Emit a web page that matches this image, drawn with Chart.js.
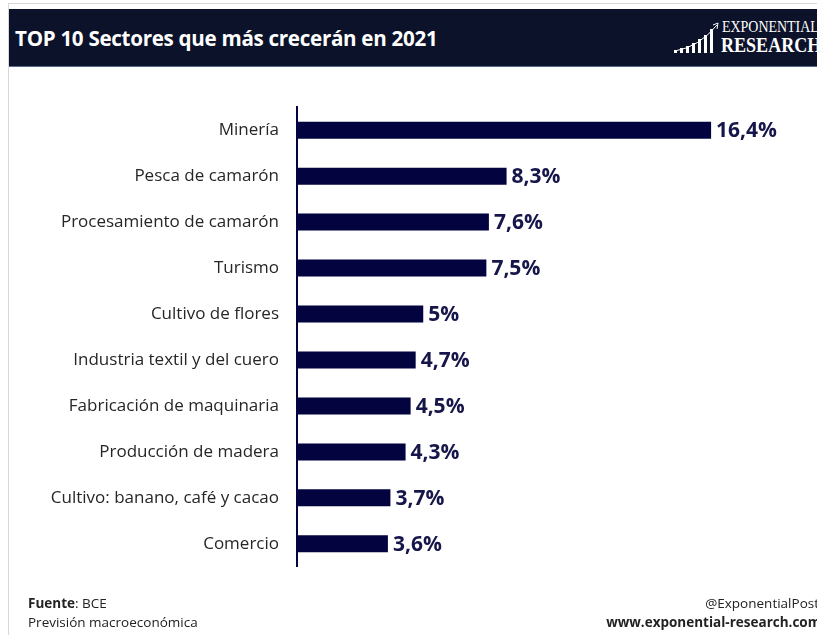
<!DOCTYPE html>
<html>
<head>
<meta charset="utf-8">
<script src="https://cdn.jsdelivr.net/npm/chart.js@4"></script>
<style>
  body { margin: 0; width: 817px; height: 635px; background: #fff; position: relative; overflow: hidden; font-family: "Open Sans", sans-serif; }
  #topline { position: absolute; left: 8px; top: 3px; width: 809px; height: 1px; background: #d8d8d8; }
  #leftline { position: absolute; left: 8px; top: 3px; width: 1px; height: 632px; background: #d8d8d8; }
  #header { position: absolute; left: 9px; top: 9px; width: 808px; height: 57px; background: #0b1229; border-bottom: 1px solid #5a6a90; overflow: hidden; z-index: 2; }
  #title { position: absolute; left: 6px; top: 15px; color: #fff; font: bold 20.6px "Open Sans", sans-serif; letter-spacing: -0.3px; }
  #logo1 { position: absolute; left: 713px; top: 8px; color: #fff; font: 17px "Liberation Serif", serif; transform: scaleX(0.82); transform-origin: left; white-space: nowrap; }
  #logo2 { position: absolute; left: 712px; top: 23px; color: #fff; font: bold 22px "Liberation Serif", serif; transform: scaleX(0.82); transform-origin: left; white-space: nowrap; }
  .lb { position: absolute; bottom: 13px; width: 3px; background: #fff; }
  #arrow { position: absolute; left: 664px; top: 12px; }
  #chartbox { position: absolute; left: 0; top: 79px; width: 817px; height: 516px; }
  .foot { position: absolute; font-size: 13.5px; color: #222; white-space: nowrap; }
</style>
</head>
<body>
<div id="topline"></div>
<div id="leftline"></div>
<div id="header">
  <div id="title">TOP 10 Sectores que más crecerán en 2021</div>
  <svg id="arrow" width="48" height="34"><path d="M2 30 Q 26 26 44 4" stroke="#fff" stroke-width="1" fill="none"/><path d="M40 4 L45 2 L44 8" stroke="#fff" stroke-width="1" fill="none"/></svg>
  <div class="lb" style="left:665px;height:3px"></div>
  <div class="lb" style="left:671px;height:5px"></div>
  <div class="lb" style="left:677px;height:7px"></div>
  <div class="lb" style="left:683px;height:10px"></div>
  <div class="lb" style="left:689px;height:14px"></div>
  <div class="lb" style="left:695px;height:18px"></div>
  <div class="lb" style="left:701px;height:24px"></div>
  <div id="logo1">EXPONENTIAL</div>
  <div id="logo2">RESEARCH</div>
</div>
<div id="chartbox"><canvas id="chart"></canvas></div>
<div class="foot" style="left:28px;top:594px"><b>Fuente</b>: BCE</div>
<div class="foot" style="left:28px;top:613px">Previsión macroeconómica</div>
<div class="foot" style="right:-2px;top:594px">@ExponentialPost</div>
<div class="foot" style="right:-4px;top:613px;font-weight:bold">www.exponential-research.com</div>
<script>
// Sectors and expected growth 2021 (%)
const sectors = [
  "Minería",
  "Pesca de camarón",
  "Procesamiento de camarón",
  "Turismo",
  "Cultivo de flores",
  "Industria textil y del cuero",
  "Fabricación de maquinaria",
  "Producción de madera",
  "Cultivo: banano, café y cacao",
  "Comercio"
];
const growth = [16.4, 8.3, 7.6, 7.5, 5, 4.7, 4.5, 4.3, 3.7, 3.6];
const growthLabels = ["16,4%", "8,3%", "7,6%", "7,5%", "5%", "4,7%", "4,5%", "4,3%", "3,7%", "3,6%"];

// draw the value text at the end of each bar
const valueLabels = {
  id: 'valueLabels',
  afterDatasetsDraw(chart) {
    const ctx = chart.ctx;
    const meta = chart.getDatasetMeta(0);
    ctx.save();
    ctx.fillStyle = '#16164a';
    ctx.font = 'bold 21px "Open Sans", sans-serif';
    ctx.textAlign = 'left';
    ctx.textBaseline = 'middle';
    meta.data.forEach((bar, i) => {
      ctx.fillText(growthLabels[i], bar.x + 5, bar.y + 1);
    });
    ctx.restore();
  }
};

new Chart(document.getElementById('chart'), {
  type: 'bar',
  data: {
    labels: sectors,
    datasets: [{
      data: growth,
      backgroundColor: '#03033f',
      barPercentage: 0.74,
      categoryPercentage: 0.5
    }]
  },
  options: {
    indexAxis: 'y',
    responsive: true,
    maintainAspectRatio: false,
    animation: false,
    layout: { padding: { top: 0, bottom: 0, right: 15, left: 0 } },
    plugins: { legend: { display: false }, tooltip: { enabled: false } },
    scales: {
      x: { display: false, min: 0, max: 20 },
      y: {
        afterFit(scale) { scale.width = 297; },
        grid: { display: false, drawTicks: false },
        border: { display: true, color: '#03033f', width: 2 },
        ticks: { color: '#262626', font: { size: 17, family: '"Open Sans", sans-serif' }, padding: 18 }
      }
    }
  },
  plugins: [valueLabels]
});
</script>
</body>
</html>
